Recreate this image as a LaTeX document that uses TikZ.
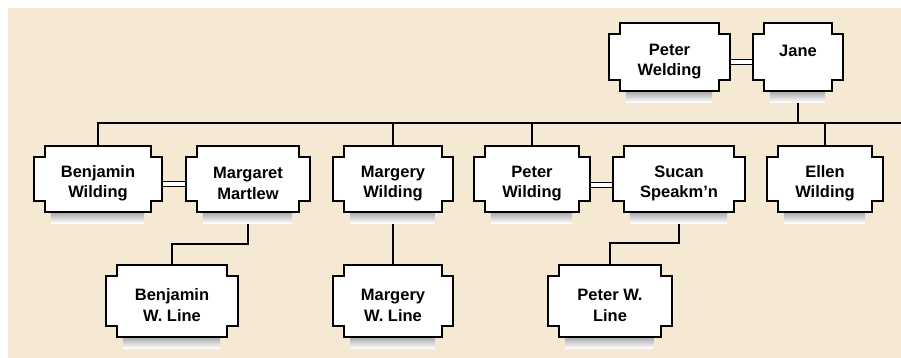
\documentclass[tikz,border=0pt]{standalone}
\usepackage{fontspec}
\setmainfont{Liberation Sans}
\usetikzlibrary{calc}
\definecolor{paper}{RGB}{246,233,211}
\definecolor{shade}{RGB}{188,188,188}
\pgfdeclarelayer{paperlayer}
\pgfdeclarelayer{linklayer}
\pgfdeclarelayer{boxlayer}
\pgfsetlayers{paperlayer,linklayer,boxlayer,main}
\newcommand\topstrut{\rule{0pt}{20pt}}
\begin{document}
\begin{tikzpicture}[x=1pt,y=-1pt,
  person/.style={inner sep=0pt, align=center, font=\bfseries\fontsize{16.5}{20.5}\selectfont},
  link/.style={line width=2.2pt, black},
  marriage/.style={line width=1.6pt, double=white, double distance=3.2pt},
  boxline/.style={line width=2.2pt, draw=black, fill=white, line join=miter},
]
\useasboundingbox (0,0) rectangle (901,358);
\begin{pgfonlayer}{paperlayer}
  \fill[white] (0,0) rectangle (901,358);
  \fill[paper] (8,8) rectangle (901,358);
\end{pgfonlayer}

% top couple
\node[person, minimum width=121pt, minimum height=68pt] (pw) at (669.5,57) {\topstrut Peter\\Welding};
\node[person, minimum width=90pt, minimum height=68pt] (jane) at (798,57) {\topstrut Jane\\\mbox{}};
% children
\node[person, minimum width=128pt, minimum height=66pt] (bw) at (98,179) {\topstrut Benjamin\\Wilding};
\node[person, minimum width=124pt, minimum height=66pt] (mm) at (248,179) {\topstrut Margaret\\Martlew};
\node[person, minimum width=119pt, minimum height=66pt] (mw) at (393,179) {\topstrut Margery\\Wilding};
\node[person, minimum width=116pt, minimum height=66pt] (pwd) at (532,179) {\topstrut Peter\\Wilding};
\node[person, minimum width=132pt, minimum height=66pt] (ss) at (679,179) {\topstrut Sucan\\Speakm'n};
\node[person, minimum width=116pt, minimum height=66pt] (ew) at (825,179) {\topstrut Ellen\\Wilding};
% grandchildren
\node[person, minimum width=132pt, minimum height=72pt] (bl) at (172,301) {\topstrut Benjamin\\W. Line};
\node[person, minimum width=119pt, minimum height=72pt] (ml) at (393,301) {\topstrut Margery\\W. Line};
\node[person, minimum width=123pt, minimum height=72pt] (pl) at (610,301) {\topstrut Peter W.\\Line};

\begin{pgfonlayer}{boxlayer}
\foreach \n in {pw,jane,bw,mm,mw,pwd,ss,ew,bl,ml,pl}{
  \fill[shade] ($(\n.south west)+(17,-5)$) rectangle ($(\n.south east)+(-18,11)$);
  \draw[boxline] ($(\n.north west)+(11,0)$) -- ($(\n.north east)+(-11,0)$) -- ++(0,11) -- ++(11,0)
    -- ($(\n.south east)+(0,-11)$) -- ++(-11,0) -- ++(0,11)
    -- ($(\n.south west)+(11,0)$) -- ++(0,-11) -- ++(-11,0)
    -- ($(\n.north west)+(0,11)$) -- ++(11,0) -- cycle;
}
\end{pgfonlayer}

\begin{pgfonlayer}{linklayer}
\coordinate (barR) at (901,123);
\draw[marriage] ([yshift=-5pt]pw.east) -- ([yshift=-5pt]jane.west);
\draw[marriage] ([yshift=-5pt]bw.east) -- ([yshift=-5pt]mm.west);
\draw[marriage] ([yshift=-6pt]pwd.east) -- ([yshift=-6pt]ss.west);
\draw[link] (jane.south) -- (jane.south |- barR);
\draw[link] (bw.north) |- (barR);
\draw[link] (mw.north) -- (mw.north |- barR);
\draw[link] (pwd.north) -- (pwd.north |- barR);
\draw[link] (ew.north) -- (ew.north |- barR);
\draw[link] (mm.south) -- ++(0,32) -| (bl.north);
\draw[link] (mw.south) -- (ml.north);
\draw[link] (ss.south) -- ++(0,31) -| (pl.north);
\end{pgfonlayer}
\end{tikzpicture}
\end{document}
